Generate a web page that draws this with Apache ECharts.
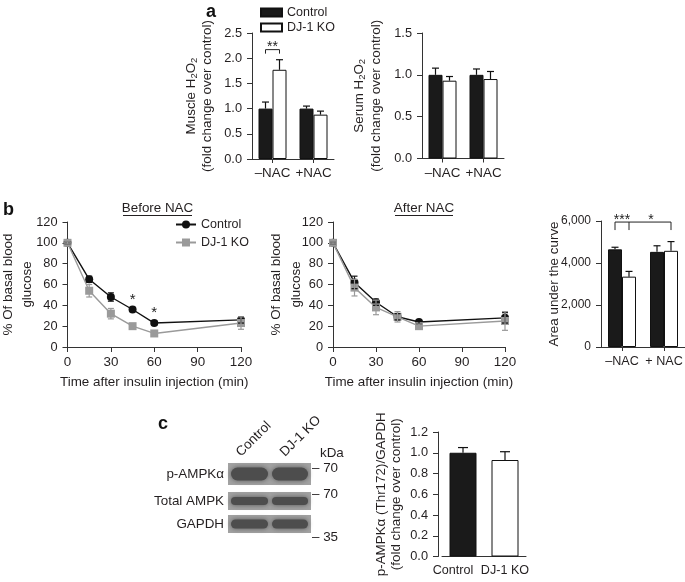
<!DOCTYPE html>
<html><head><meta charset="utf-8">
<script src="https://cdn.jsdelivr.net/npm/echarts@6/dist/echarts.min.js"></script>
<style>html,body{margin:0;padding:0;background:#fff}#c{width:685px;height:582px}</style>
</head><body><div id="c"></div>
<script>
// ---------- Panel a ----------
const groupsA = ['–NAC', '+NAC'];
const muscleCtrl = [1.0, 1.0];
const muscleCtrlErr = [0.13, 0.05];
const muscleKO = [1.77, 0.88];
const muscleKOErr = [0.20, 0.07];
const serumCtrl = [1.0, 1.0];
const serumCtrlErr = [0.08, 0.07];
const serumKO = [0.93, 0.95];
const serumKOErr = [0.05, 0.09];
// ---------- Panel b ----------
const times = [0, 15, 30, 45, 60, 120];
const beforeCtrl = [100, 65, 48, 36, 23, 26];
const beforeCtrlErr = [1, 3, 4, 2, 2, 3];
const beforeKO = [100, 54, 32, 20, 13, 23];
const beforeKOErr = [1, 6, 5, 2, 2, 6];
const afterCtrl = [100, 62, 43, 29, 24, 28];
const afterCtrlErr = [1, 6, 3, 3, 2, 5];
const afterKO = [100, 57, 38, 29, 20, 25];
const afterKOErr = [1, 8, 7, 5, 2, 9];
const groupsAUC = ['–NAC', '+ NAC'];
const aucCtrl = [4650, 4530];
const aucCtrlErr = [100, 290];
const aucKO = [3350, 4580];
const aucKOErr = [250, 440];
// ---------- Panel c ----------
const groupsC = ['Control', 'DJ-1 KO'];
const ampk = [1.0, 0.93];
const ampkErr = [0.05, 0.08];
const blotRows = ['p-AMPKα', 'Total AMPK', 'GAPDH'];
const blotLanes = ['Control', 'DJ-1 KO'];
const markerLabels = ['70', '70', '35'];

const FONT = 'Liberation Sans, Arial, sans-serif';
const TXT = '#231f20';
const GRAY = '#9a9a9a';
const NAMESZ = 13.4;

function pairs(vals, errs) { return vals.map((v, i) => [i, v, errs[i]]); }
function tpairs(vals, errs) { return vals.map((v, i) => [times[i], v, errs[i]]); }

function errSeries(ai, data, off, color, cap, both) {
  return {
    type: 'custom', xAxisIndex: ai, yAxisIndex: ai, z: 6, silent: true, data: data,
    renderItem: function (params, api) {
      const x = api.value(0), v = api.value(1), e = api.value(2);
      const top = api.coord([x, v + e]);
      const mid = api.coord([x, v]);
      const bot = both ? api.coord([x, v - e]) : mid;
      const cx = top[0] + off;
      const st = { stroke: color, lineWidth: 1.2 };
      const ch = [
        { type: 'line', shape: { x1: cx, y1: bot[1], x2: cx, y2: top[1] }, style: st },
        { type: 'line', shape: { x1: cx - cap, y1: top[1], x2: cx + cap, y2: top[1] }, style: st }
      ];
      if (both) ch.push({ type: 'line', shape: { x1: cx - cap, y1: bot[1], x2: cx + cap, y2: bot[1] }, style: st });
      return { type: 'group', children: ch };
    }
  };
}

function catX(gi, cats, fs) {
  return {
    gridIndex: gi, type: 'category', data: cats,
    axisLine: { lineStyle: { color: '#333', width: 1 } },
    axisTick: { show: true, alignWithLabel: true, length: 4, lineStyle: { color: '#333' } },
    axisLabel: { color: TXT, fontSize: fs || NAMESZ, fontFamily: FONT, margin: 8, interval: 0 }
  };
}
function valY(gi, max, interval, fmt, name, gap, lh, rich, tfs) {
  return {
    gridIndex: gi, type: 'value', min: 0, max: max, interval: interval,
    axisLine: { show: true, lineStyle: { color: '#333', width: 1 } },
    axisTick: { show: true, length: 5, lineStyle: { color: '#333' } },
    splitLine: { show: false },
    axisLabel: { color: TXT, fontSize: tfs || 12.8, fontFamily: FONT, margin: 10, formatter: fmt },
    name: name, nameLocation: 'middle', nameGap: gap, nameMoveOverlap: false,
    nameTextStyle: Object.assign({ color: TXT, fontSize: NAMESZ, fontFamily: FONT, lineHeight: lh }, rich ? { rich: rich } : {})
  };
}
function subRich(lh) {
  return {
    n: { fontSize: NAMESZ, fontFamily: FONT, color: TXT, lineHeight: lh },
    s: { fontSize: 9.5, fontFamily: FONT, color: TXT, padding: [6, 0, 0, 0], lineHeight: lh }
  };
}
function timeX(gi) {
  return {
    gridIndex: gi, type: 'value', min: 0, max: 120, interval: 30,
    axisLine: { show: true, onZero: false, lineStyle: { color: '#333' } },
    axisTick: { show: true, length: 5, lineStyle: { color: '#333' } },
    splitLine: { show: false },
    axisLabel: { color: TXT, fontSize: NAMESZ, fontFamily: FONT, margin: 9 },
    name: 'Time after insulin injection (min)', nameLocation: 'middle', nameGap: 29, nameMoveOverlap: false,
    nameTextStyle: { color: TXT, fontSize: NAMESZ, fontFamily: FONT }
  };
}
const f1 = v => v.toFixed(1);

const ctrlBar = { color: '#1a1a1a', borderColor: '#111', borderWidth: 1 };
const koBar = { color: '#ffffff', borderColor: '#111', borderWidth: 1 };

function lineSeries(ai, name, vals, color, sym) {
  return {
    type: 'line', name: name, xAxisIndex: ai, yAxisIndex: ai, z: 4,
    data: vals.map((v, i) => [times[i], v]),
    symbol: sym, symbolSize: 8,
    lineStyle: { color: color, width: 1.4 }, itemStyle: { color: color }
  };
}

function bracketSeries(ai, xIdx, yVal, pts, drop, stars) {
  return {
    type: 'custom', xAxisIndex: ai, yAxisIndex: ai, z: 7, silent: true, data: [[xIdx, yVal]],
    renderItem: function (params, api) {
      const p0 = api.coord([0, api.value(1)]);
      const p1 = api.coord([1, api.value(1)]);
      const xs = pts.map(d => (d[0] === 0 ? p0[0] : p1[0]) + d[1]);
      const y = p0[1];
      const st = { stroke: '#222', lineWidth: 1 };
      const ch = [{ type: 'line', shape: { x1: Math.min(...xs), y1: y, x2: Math.max(...xs), y2: y }, style: st }];
      xs.forEach(x => ch.push({ type: 'line', shape: { x1: x, y1: y, x2: x, y2: y + drop }, style: st }));
      stars.forEach(s => ch.push({
        type: 'text', style: {
          text: s.text, x: (s.c === 0 ? p0[0] : p1[0]) + s.dx, y: y + 5, align: 'center', verticalAlign: 'bottom',
          fontSize: 14, fontFamily: FONT, fill: '#222'
        }
      }));
      return { type: 'group', children: ch };
    }
  };
}

function starSeries(ai, pts) {
  return {
    type: 'custom', xAxisIndex: ai, yAxisIndex: ai, z: 7, silent: true, data: pts,
    renderItem: function (params, api) {
      const p = api.coord([api.value(0), api.value(1)]);
      return { type: 'text', style: { text: '*', x: p[0], y: p[1] + 6, align: 'center', verticalAlign: 'bottom', fontSize: 15, fontFamily: FONT, fill: '#222' } };
    }
  };
}

// ---------- blot graphic ----------
const blotX = 228, blotW = 83;
const rowGeom = [{ y: 463, h: 22, bh: 13 }, { y: 492, h: 18, bh: 8 }, { y: 515, h: 18, bh: 9 }];
const laneGeom = [{ x: 231, w: 37 }, { x: 272, w: 36 }];
const markerY = [468, 494, 537];
const graphics = [];
rowGeom.forEach((r, i) => {
  graphics.push({ type: 'rect', shape: { x: blotX, y: r.y, width: blotW, height: r.h }, style: { fill: '#a2a2a2' } });
  laneGeom.forEach(l => graphics.push({
    type: 'rect', shape: { x: l.x, y: r.y + (r.h - r.bh) / 2, width: l.w, height: r.bh, r: r.bh / 2 },
    style: { fill: '#4d4d4d', shadowBlur: 5, shadowColor: '#555' }
  }));
  graphics.push({ type: 'text', style: { text: blotRows[i], x: 224, y: r.y + r.h / 2, align: 'right', verticalAlign: 'middle', fontSize: NAMESZ, fontFamily: FONT, fill: TXT } });
  graphics.push({ type: 'text', style: { text: '– ' + markerLabels[i], x: 312, y: markerY[i], align: 'left', verticalAlign: 'middle', fontSize: NAMESZ, fontFamily: FONT, fill: TXT } });
});
graphics.push({ type: 'text', style: { text: 'kDa', x: 320, y: 453, align: 'left', verticalAlign: 'middle', fontSize: NAMESZ, fontFamily: FONT, fill: TXT } });
graphics.push({ type: 'text', x: 243, y: 459, rotation: Math.PI / 4, style: { text: blotLanes[0], x: 0, y: 0, align: 'left', verticalAlign: 'bottom', fontSize: NAMESZ, fontFamily: FONT, fill: TXT } });
graphics.push({ type: 'text', x: 287, y: 459, rotation: Math.PI / 4, style: { text: blotLanes[1], x: 0, y: 0, align: 'left', verticalAlign: 'bottom', fontSize: NAMESZ, fontFamily: FONT, fill: TXT } });
[['a', 206, 12], ['b', 3, 210], ['c', 158, 424]].forEach(t => graphics.push({
  type: 'text', style: { text: t[0], x: t[1], y: t[2], align: 'left', verticalAlign: 'middle', fontSize: 18, fontWeight: 'bold', fontFamily: FONT, fill: '#111' }
}));
[['Before NAC', 157.5, 123, 192], ['After NAC', 424, 395, 453]].forEach(t => {
  graphics.push({ type: 'text', style: { text: t[0], x: t[1], y: 208, align: 'center', verticalAlign: 'middle', fontSize: NAMESZ, fontFamily: FONT, fill: TXT } });
  graphics.push({ type: 'line', shape: { x1: t[2], y1: 215.5, x2: t[3], y2: 215.5 }, style: { stroke: TXT, lineWidth: 1 } });
});

const G = { outerBoundsMode: 'none', containLabel: false };
const cAxis = catX(5, groupsC.map((c, i) => ({ value: c, textStyle: { padding: i === 0 ? [0, 20, 0, 0] : [0, 0, 0, 0] } })), 12.6);
cAxis.axisTick = { show: false };
const option = {
  animation: false,
  backgroundColor: '#fff',
  textStyle: { fontFamily: FONT },
  grid: [
    Object.assign({ left: 252, top: 33, width: 82, height: 126 }, G),
    Object.assign({ left: 422, top: 33, width: 82, height: 125.5 }, G),
    Object.assign({ left: 67.5, top: 222, width: 173.5, height: 125 }, G),
    Object.assign({ left: 333, top: 222, width: 172, height: 125 }, G),
    Object.assign({ left: 601, top: 221, width: 84, height: 126 }, G),
    Object.assign({ left: 442, top: 432, width: 84, height: 124.5 }, G)
  ],
  xAxis: [catX(0, groupsA), catX(1, groupsA), timeX(2), timeX(3), catX(4, groupsAUC, 12.6), cAxis],
  yAxis: [
    valY(0, 2.5, 0.5, f1, '{n|Muscle H}{s|2}{n|O}{s|2}\n{n|(fold change over control)}', 36.5, 16, subRich(16)),
    valY(1, 1.5, 0.5, f1, '{n|Serum H}{s|2}{n|O}{s|2}\n{n|(fold change over control)}', 37.5, 17, subRich(17)),
    valY(2, 120, 20, null, '% Of basal blood\nglucose', 31, 19),
    valY(3, 120, 20, null, '% Of basal blood\nglucose', 27, 20),
    valY(4, 6000, 2000, v => v.toLocaleString('en-US'), 'Area under the curve', 39, 16, null, 12),
    Object.assign(valY(5, 1.2, 0.2, f1, 'p-AMPKα (Thr172)/GAPDH\n(fold change over control)', 34.5, 15), { offset: 4 })
  ],
  legend: [
    {
      data: ['Control', 'DJ-1 KO'], orient: 'vertical', left: 255, top: 1, itemGap: 2, icon: 'rect',
      itemWidth: 21, itemHeight: 8, textStyle: { fontSize: 12.5, color: TXT, fontFamily: FONT }
    },
    {
      data: ['Control (b)', 'DJ-1 KO (b)'], orient: 'vertical', left: 170, top: 213, itemGap: 5,
      itemWidth: 20, itemHeight: 10, formatter: n => n.replace(' (b)', ''),
      textStyle: { fontSize: 12.5, color: TXT, fontFamily: FONT }
    }
  ],
  graphic: graphics,
  series: [
    { type: 'bar', name: 'Control', xAxisIndex: 0, yAxisIndex: 0, data: muscleCtrl, barWidth: 14, barGap: '0%', itemStyle: ctrlBar },
    { type: 'bar', name: 'DJ-1 KO', xAxisIndex: 0, yAxisIndex: 0, data: muscleKO, barWidth: 14, barGap: '0%', itemStyle: koBar },
    errSeries(0, pairs(muscleCtrl, muscleCtrlErr), -7, '#111', 3.5, false),
    errSeries(0, pairs(muscleKO, muscleKOErr), 7, '#111', 3.5, false),
    bracketSeries(0, 0, 2.17, [[0, -7], [0, 7]], 4, [{ c: 0, dx: 0, text: '**' }]),
    { type: 'bar', name: 'Control a2', xAxisIndex: 1, yAxisIndex: 1, data: serumCtrl, barWidth: 14, barGap: '0%', itemStyle: ctrlBar },
    { type: 'bar', name: 'KO a2', xAxisIndex: 1, yAxisIndex: 1, data: serumKO, barWidth: 14, barGap: '0%', itemStyle: koBar },
    errSeries(1, pairs(serumCtrl, serumCtrlErr), -7, '#111', 3.5, false),
    errSeries(1, pairs(serumKO, serumKOErr), 7, '#111', 3.5, false),
    lineSeries(2, 'Control (b)', beforeCtrl, '#111', 'circle'),
    lineSeries(2, 'DJ-1 KO (b)', beforeKO, GRAY, 'rect'),
    errSeries(2, tpairs(beforeCtrl, beforeCtrlErr), 0, '#111', 3, true),
    errSeries(2, tpairs(beforeKO, beforeKOErr), 0, GRAY, 3, true),
    starSeries(2, [[45, 44], [60, 31]]),
    lineSeries(3, 'Control (b2)', afterCtrl, '#111', 'circle'),
    lineSeries(3, 'DJ-1 KO (b2)', afterKO, GRAY, 'rect'),
    errSeries(3, tpairs(afterCtrl, afterCtrlErr), 0, '#111', 3, true),
    errSeries(3, tpairs(afterKO, afterKOErr), 0, GRAY, 3, true),
    { type: 'bar', name: 'Control auc', xAxisIndex: 4, yAxisIndex: 4, data: aucCtrl, barWidth: 14, barGap: '0%', itemStyle: ctrlBar },
    { type: 'bar', name: 'KO auc', xAxisIndex: 4, yAxisIndex: 4, data: aucKO, barWidth: 14, barGap: '0%', itemStyle: koBar },
    errSeries(4, pairs(aucCtrl, aucCtrlErr), -7, '#111', 3.5, false),
    errSeries(4, pairs(aucKO, aucKOErr), 7, '#111', 3.5, false),
    bracketSeries(4, 0, 5950, [[0, -7], [0, 7], [1, 7]], 8, [{ c: 0, dx: 0, text: '***' }, { c: 1, dx: -13, text: '*' }]),
    {
      type: 'bar', name: 'AMPK', xAxisIndex: 5, yAxisIndex: 5, barWidth: 27,
      data: ampk.map((v, i) => ({ value: v, itemStyle: i === 0 ? ctrlBar : koBar }))
    },
    errSeries(5, pairs(ampk, ampkErr), 0, '#111', 5, false)
  ]
};
echarts.init(document.getElementById('c'), null, { renderer: 'canvas' }).setOption(option);
</script>
</body></html>
